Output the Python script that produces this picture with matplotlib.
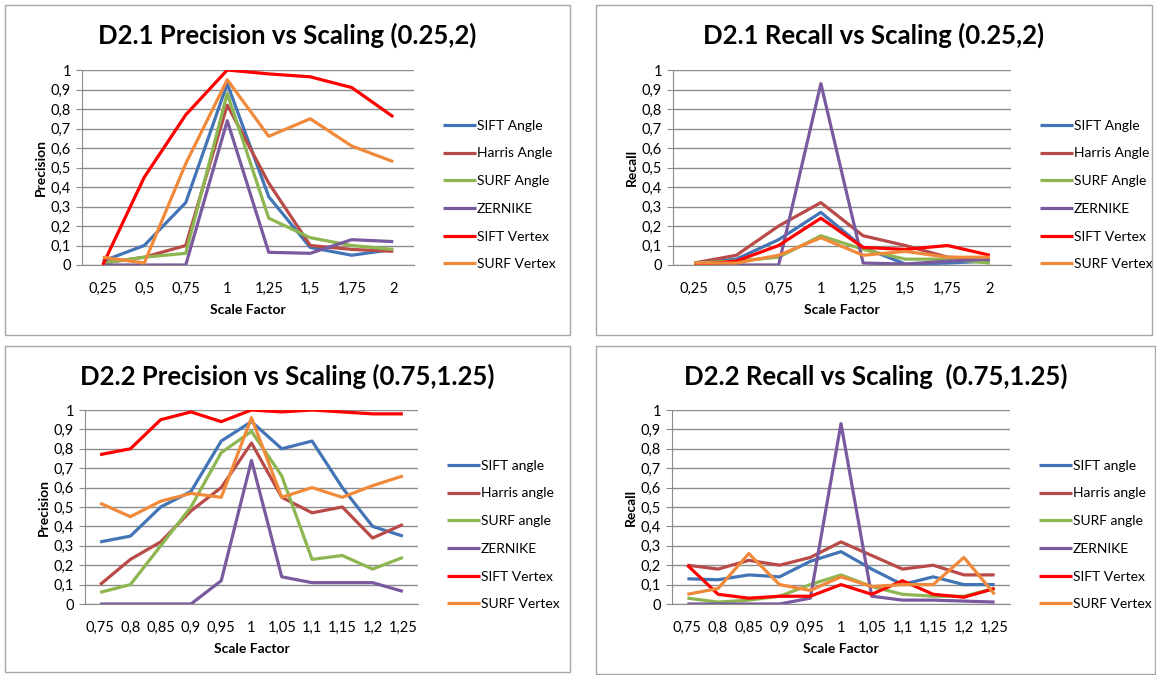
import matplotlib.pyplot as plt
from matplotlib.patches import Rectangle

W, H = 1156, 675

# x categories
scale_a = ["0,25", "0,5", "0,75", "1", "1,25", "1,5", "1,75", "2"]
scale_b = ["0,75", "0,8", "0,85", "0,9", "0,95", "1", "1,05", "1,1", "1,15", "1,2", "1,25"]

# D2.1 precision
p1_sift_angle = [0.02, 0.10, 0.32, 0.93, 0.35, 0.09, 0.05, 0.08]
p1_harris_angle = [0.01, 0.04, 0.10, 0.82, 0.42, 0.10, 0.08, 0.07]
p1_surf_angle = [0.01, 0.04, 0.06, 0.88, 0.24, 0.14, 0.10, 0.08]
p1_zernike = [0.0, 0.0, 0.0, 0.74, 0.065, 0.06, 0.13, 0.12]
p1_sift_vertex = [0.0, 0.45, 0.77, 1.0, 0.98, 0.965, 0.91, 0.76]
p1_surf_vertex = [0.04, 0.01, 0.52, 0.95, 0.66, 0.75, 0.61, 0.53]

# D2.1 recall
r1_sift_angle = [0.01, 0.03, 0.13, 0.27, 0.09, 0.005, 0.01, 0.02]
r1_harris_angle = [0.01, 0.05, 0.20, 0.32, 0.15, 0.10, 0.04, 0.03]
r1_surf_angle = [0.01, 0.02, 0.04, 0.15, 0.08, 0.03, 0.03, 0.01]
r1_zernike = [0.0, 0.0, 0.0, 0.93, 0.01, 0.005, 0.02, 0.03]
r1_sift_vertex = [0.0, 0.02, 0.10, 0.24, 0.09, 0.08, 0.10, 0.05]
r1_surf_vertex = [0.01, 0.01, 0.05, 0.14, 0.05, 0.07, 0.04, 0.04]

# D2.2 precision
p2_sift_angle = [0.32, 0.35, 0.50, 0.58, 0.84, 0.94, 0.80, 0.84, 0.60, 0.40, 0.35]
p2_harris_angle = [0.10, 0.23, 0.32, 0.48, 0.60, 0.83, 0.55, 0.47, 0.50, 0.34, 0.41]
p2_surf_angle = [0.06, 0.10, 0.30, 0.50, 0.78, 0.89, 0.66, 0.23, 0.25, 0.18, 0.24]
p2_zernike = [0.0, 0.0, 0.0, 0.0, 0.12, 0.74, 0.14, 0.11, 0.11, 0.11, 0.065]
p2_sift_vertex = [0.77, 0.80, 0.95, 0.99, 0.94, 1.0, 0.99, 1.0, 0.99, 0.98, 0.98]
p2_surf_vertex = [0.52, 0.45, 0.53, 0.57, 0.55, 0.96, 0.55, 0.60, 0.55, 0.61, 0.66]

# D2.2 recall
r2_sift_angle = [0.13, 0.125, 0.15, 0.14, 0.22, 0.27, 0.18, 0.10, 0.14, 0.10, 0.10]
r2_harris_angle = [0.20, 0.18, 0.225, 0.20, 0.24, 0.32, 0.25, 0.18, 0.20, 0.15, 0.15]
r2_surf_angle = [0.03, 0.01, 0.02, 0.04, 0.10, 0.15, 0.09, 0.05, 0.04, 0.04, 0.08]
r2_zernike = [0.0, 0.0, 0.0, 0.0, 0.03, 0.93, 0.04, 0.02, 0.02, 0.015, 0.01]
r2_sift_vertex = [0.20, 0.05, 0.03, 0.04, 0.04, 0.10, 0.05, 0.12, 0.05, 0.035, 0.08]
r2_surf_vertex = [0.05, 0.08, 0.26, 0.10, 0.07, 0.14, 0.09, 0.10, 0.10, 0.24, 0.05]

names_a = ["SIFT Angle", "Harris Angle", "SURF Angle", "ZERNIKE", "SIFT Vertex", "SURF Vertex"]
names_b = ["SIFT angle", "Harris angle", "SURF angle", "ZERNIKE", "SIFT Vertex", "SURF Vertex"]
colors = ["#4375B6", "#B84A47", "#8DB650", "#7A5A9F", "#FF0000", "#F08A3A"]
yticks = [i / 10 for i in range(11)]
ytick_labels = ["0"] + ["0,%d" % i for i in range(1, 10)] + ["1"]

plt.rcParams['font.family'] = ['Lato', 'DejaVu Sans']
fig = plt.figure(figsize=(W / 100, H / 100), dpi=100)


def px_rect(left, top, right, bottom):
    return [left / W, 1 - bottom / H, (right - left) / W, (bottom - top) / H]


def draw_panel(frame, plot_box, title, ylabel, cats, series, names, legend_y):
    fl, ft, fr, fb = frame
    fig.patches.append(Rectangle((fl / W, 1 - fb / H), (fr - fl) / W, (fb - ft) / H,
                                 transform=fig.transFigure, fill=False,
                                 edgecolor="#a6a6a6", lw=1))
    fig.text((fl + fr) / 2 / W, 1 - (ft + 30) / H, title, ha='center', va='center',
             fontsize=18.5, fontweight='bold', color='black')

    ax = fig.add_axes(px_rect(*plot_box))
    x = range(len(cats))
    for vals, name, c in zip(series, names, colors):
        ax.plot(x, vals, color=c, lw=2.3, label=name, solid_capstyle='butt')

    ax.set_xlim(-0.5, len(cats) - 0.5)
    ax.set_ylim(0, 1)
    ax.set_yticks(yticks)
    ax.set_yticklabels(ytick_labels)
    ax.set_xticks(list(x))
    ax.set_xticklabels(cats)
    ax.grid(axis='y', color='#8c8c8c', lw=1)
    ax.set_axisbelow(True)
    for s in ['top', 'right']:
        ax.spines[s].set_visible(False)
    for s in ['left', 'bottom']:
        ax.spines[s].set_color('#8c8c8c')
    ax.tick_params(axis='y', length=4, color='#8c8c8c', labelsize=10.5, pad=4)
    ax.tick_params(axis='x', length=0, labelsize=10.5, pad=12)
    ax.set_xlabel("Scale Factor", fontsize=10, fontweight='bold', labelpad=6)
    ax.set_ylabel(ylabel, fontsize=10, fontweight='bold')
    ax.yaxis.set_label_coords(-0.105, 0.5)

    bw = plot_box[2] - plot_box[0]
    ax.legend(loc='center left', bbox_to_anchor=(1 + 23 / bw, 1 - (legend_y - plot_box[1]) / (plot_box[3] - plot_box[1])),
              frameon=False, fontsize=10, handlelength=2.4, handletextpad=0.08,
              labelspacing=1.13, borderaxespad=0)
    return ax


draw_panel((5, 5, 570, 335), (82, 70, 414, 265), "D2.1 Precision vs Scaling (0.25,2)", "Precision",
           scale_a, [p1_sift_angle, p1_harris_angle, p1_surf_angle, p1_zernike, p1_sift_vertex, p1_surf_vertex],
           names_a, 195)
draw_panel((596, 5, 1152, 335), (673, 70, 1011, 265), "D2.1 Recall vs Scaling (0.25,2)", "Recall",
           scale_a, [r1_sift_angle, r1_harris_angle, r1_surf_angle, r1_zernike, r1_sift_vertex, r1_surf_vertex],
           names_a, 195)
draw_panel((5, 346, 570, 672), (85, 410, 418, 604), "D2.2 Precision vs Scaling (0.75,1.25)", "Precision",
           scale_b, [p2_sift_angle, p2_harris_angle, p2_surf_angle, p2_zernike, p2_sift_vertex, p2_surf_vertex],
           names_b, 535)
draw_panel((596, 346, 1155, 674), (672, 410, 1010, 604), "D2.2 Recall vs Scaling  (0.75,1.25)", "Recall",
           scale_b, [r2_sift_angle, r2_harris_angle, r2_surf_angle, r2_zernike, r2_sift_vertex, r2_surf_vertex],
           names_b, 535)

plt.savefig("out.png", dpi=100)
